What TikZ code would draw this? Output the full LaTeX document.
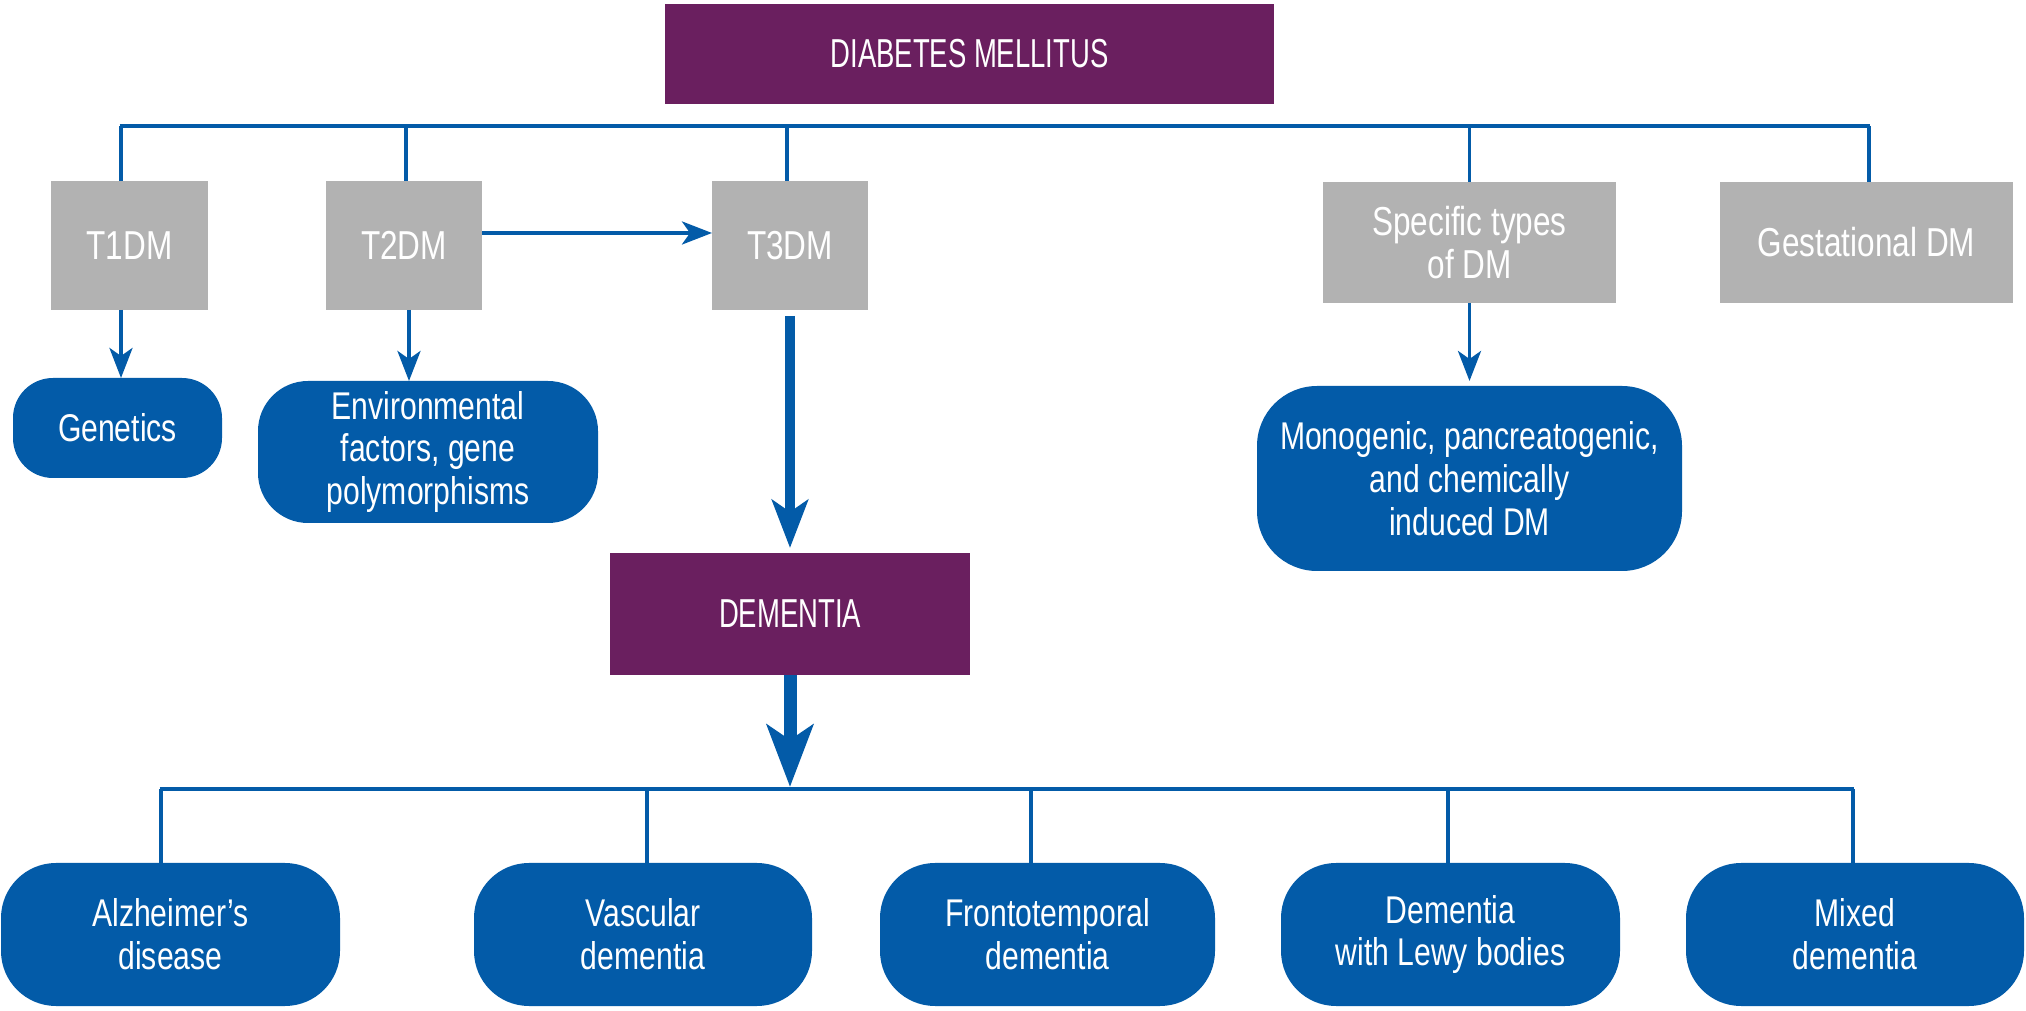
\documentclass[tikz,border=0pt]{standalone}
\usepackage{fontspec}
\setmainfont[FakeStretch=0.78]{Liberation Sans}
\newfontfamily\capsfont[FakeStretch=0.68]{Liberation Sans}
\usetikzlibrary{arrows.meta,calc}
\definecolor{dmpurple}{HTML}{6A1F5F}
\definecolor{boxgray}{HTML}{B2B2B2}
\definecolor{dmblue}{HTML}{035BA8}
\tikzset{
  base/.style={inner sep=0pt, outer sep=0pt, text=white, align=center,
    font=\fontsize{11}{12.2}\selectfont},
  purplebox/.style={base, fill=dmpurple, font=\capsfont\fontsize{11.5}{12.5}\selectfont},
  graybox/.style={base, fill=boxgray, font=\fontsize{11.5}{12.4}\selectfont},
  bluebox/.style={base, fill=dmblue, rounded corners=#1},
  bluebox/.default=5mm,
  busline/.style={draw=dmblue, line width=1.2pt},
  vline/.style={draw=dmblue, line width=0.9pt},
  thinarrow/.style={draw=dmblue, line width=1.1pt,
    -{Stealth[length=3mm, width=2.3mm, inset=0.8mm]}},
  midarrow/.style={draw=dmblue, line width=2.6pt,
    -{Stealth[length=4.8mm, width=3.6mm, inset=1.2mm]}},
  bigarrow/.style={draw=dmblue, line width=3.7pt,
    -{Stealth[length=6.2mm, width=4.6mm, inset=1.5mm]}},
}
\begin{document}
\begin{tikzpicture}
\useasboundingbox (0,0) rectangle (20.26,-10.11);

% top
\node[purplebox, minimum width=6.09cm, minimum height=1.00cm] (dm) at (9.695,-0.54) {DIABETES MELLITUS};

% gray type boxes
\node[graybox, minimum width=1.57cm, minimum height=1.29cm] (t1) at (1.295,-2.455) {T1DM};
\node[graybox, minimum width=1.56cm, minimum height=1.29cm] (t2) at (4.04,-2.455) {T2DM};
\node[graybox, minimum width=1.56cm, minimum height=1.29cm] (t3) at (7.90,-2.455) {T3DM};
\node[graybox, minimum width=2.93cm, minimum height=1.21cm] (sp) at (14.695,-2.425) {Specific types\\of DM};
\node[graybox, minimum width=2.93cm, minimum height=1.21cm] (ge) at (18.665,-2.425) {Gestational DM};

% blue boxes (second row)
\node[bluebox=4mm, minimum width=2.09cm, minimum height=1.00cm] (gen) at (1.175,-4.28) {Genetics};
\node[bluebox=5mm, minimum width=3.40cm, minimum height=1.42cm] (env) at (4.28,-4.52) {Environmental\\factors, gene\\polymorphisms};
\node[bluebox=6mm, minimum width=4.25cm, minimum height=1.85cm] (mono) at (14.695,-4.785) {Monogenic, pancreatogenic,\\and chemically\\induced DM};

% dementia
\node[purplebox, minimum width=3.60cm, minimum height=1.22cm] (dem) at (7.90,-6.14) {DEMENTIA};

% bottom row
\node[bluebox=5.5mm, minimum width=3.39cm, minimum height=1.43cm] (alz) at (1.705,-9.345) {Alzheimer’s\\disease};
\node[bluebox=5.5mm, minimum width=3.38cm, minimum height=1.43cm] (vas) at (6.43,-9.345) {Vascular\\dementia};
\node[bluebox=5.5mm, minimum width=3.35cm, minimum height=1.43cm] (fro) at (10.475,-9.345) {Frontotemporal\\dementia};
\node[bluebox=5.5mm, minimum width=3.39cm, minimum height=1.43cm] (lew) at (14.505,-9.345) {Dementia\\with Lewy bodies};
\node[bluebox=5.5mm, minimum width=3.38cm, minimum height=1.43cm] (mix) at (18.55,-9.345) {Mixed\\dementia};

% top bus
\coordinate (tbl) at (1.21,-1.26);
\coordinate (tbr) at (18.69,-1.26);
\draw[busline] ([xshift=-0.4pt]tbl) -- ([xshift=0.4pt]tbr);
\draw[vline] (tbl) -- (tbl |- t1.north);
\draw[vline] ($(t2.north |- tbl)+(0.02,0)$) -- ($(t2.north)+(0.02,0)$);
\draw[vline] ($(t3.north |- tbl)+(-0.03,0)$) -- ($(t3.north)+(-0.03,0)$);
\draw[vline] (sp.north |- tbl) -- (sp.north);
\draw[vline] (tbr) -- (tbr |- ge.north);

% arrows from type boxes
\draw[thinarrow] (tbl |- t1.south) -- (tbl |- gen.north);
\draw[thinarrow] ($(t2.south)+(0.05,0)$) -- ($(t2.south |- env.north)+(0.05,0)$);
\draw[thinarrow] ([yshift=1.25mm]t2.east) -- ([yshift=1.25mm]t3.west);
\draw[thinarrow] (sp.south) -- ([yshift=0.5mm]mono.north);
\draw[midarrow] ([yshift=-0.6mm]t3.south) -- ([yshift=0.5mm]dem.north);

% dementia to bottom bus
\coordinate (bbl) at (1.61,-7.89);
\coordinate (bbm) at (7.90,-7.89);
\coordinate (bbr) at (18.53,-7.89);
\draw[busline] ([xshift=-0.4pt]bbl) -- ([xshift=0.4pt]bbr);
\draw[bigarrow] (dem.south) -- ([yshift=0.2mm]bbm);
\draw[vline] (bbl) -- (bbl |- alz.north);
\coordinate (bv2) at (6.47,-7.89);
\coordinate (bv3) at (10.31,-7.89);
\coordinate (bv4) at (14.48,-7.89);
\draw[vline] (bv2) -- (bv2 |- vas.north);
\draw[vline] (bv3) -- (bv3 |- fro.north);
\draw[vline] (bv4) -- (bv4 |- lew.north);
\draw[vline] (bbr) -- (bbr |- mix.north);
\end{tikzpicture}
\end{document}
